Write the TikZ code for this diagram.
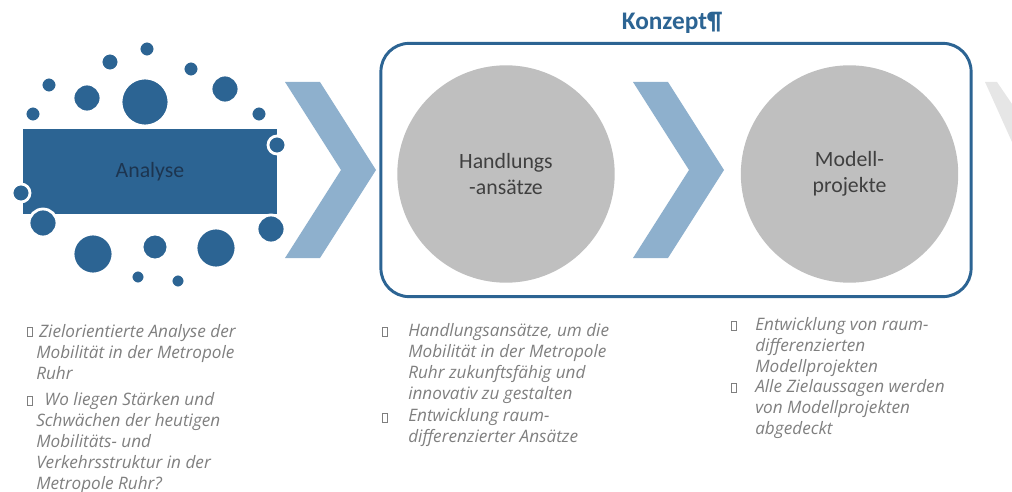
\documentclass[tikz,border=0pt]{standalone}
\usepackage{fontspec}
\setmainfont{Carlito}
\newfontfamily\notefont{Open Sans}
\usetikzlibrary{positioning}

\definecolor{ruhrblue}{HTML}{2C6493}
\definecolor{chevronblue}{HTML}{8EB0CD}
\definecolor{discgray}{HTML}{BFBFBF}
\definecolor{notegray}{HTML}{7F7F7F}
\definecolor{ghostgray}{HTML}{E6E6E6}
\definecolor{labelnavy}{HTML}{1D3550}

\begin{document}
\begin{tikzpicture}[x=0.025cm, y=-0.025cm,
    label text/.style={font=\fontsize{15.5}{18.5}\selectfont, align=center},
    disc/.style={circle, fill=discgray, minimum size=154.6pt, inner sep=0pt, label text, text=black!75},
    dot/.style={fill=ruhrblue, draw=white, line width=2pt},
    % notes hang from the top of their first line (strut keeps it steady)
    note/.style={anchor=north west, align=left, inner sep=0pt, text=notegray,
                 font=\notefont\itshape\fontsize{12.2}{14.9}\selectfont},
    boxmark/.style={rectangle, draw=notegray, line width=0.5pt, inner sep=0pt,
                    minimum width=3.6pt, minimum height=6.6pt}]
    \useasboundingbox (0,0) rectangle (1012,492);

    % chevrons between the stages, and the faded one at the edge
    \foreach \cx in {285,633}
        \fill[chevronblue] (\cx,82) -- ++(35,0) -- ++(56,88) -- ++(-56,88) -- ++(-35,0) -- ++(56,-88) -- cycle;
    \fill[ghostgray] (985,82) -- (997,82) -- (1012,104) -- (1012,142) -- cycle;

    % Analyse block with its ring of dots
    \node (analyse) [fill=ruhrblue, minimum width=180pt, minimum height=60.3pt, label text, text=labelnavy] at (150,171.5) {Analyse};
    \foreach \x/\y/\r in {147/49/8, 110/62/9, 191/69/8, 49/85/8, 87/98/14, 145/102/24, 225/89/14,
                          33/114/8, 259/114/8, 277/145/9, 21/193/9, 43/223/14, 271/229/14,
                          93/254/20, 155/247/13, 216/248/20, 138/277/7, 178/281/7}
        \filldraw[dot] (\x,\y) circle [radius=\r];

    % Konzept frame with the two stages
    \node (konzeptrahmen) [draw=ruhrblue, line width=2.1pt, rounded corners=20pt,
                           minimum width=419.7pt, minimum height=180.1pt] at (676,170) {};
    \node (konzept) [font=\bfseries\fontsize{18}{20}\selectfont, text=ruhrblue] at (672,23) {Konzept¶};
    \node (handlung) [disc] at (506,174) {Handlungs\\-ansätze};
    \node (modell) [disc, right=89.3pt of handlung] {Modell-\\projekte};

    % notes below each stage (y = first baseline - 14.7)
    \node (an1box) [boxmark] at (29.5,332) {};
    \node (an1) [note] at (36,323) {\strut\hspace*{2pt}Zielorientierte Analyse der\\Mobilität in der Metropole\\Ruhr};
    \node (an2box) [boxmark] at (29.5,401) {};
    \node (an2) [note] at (36,391) {\strut\hspace*{6pt}Wo liegen Stärken und\\Schwächen der heutigen\\Mobilitäts- und\\Verkehrsstruktur in der\\Metropole Ruhr?};

    \node (hs1box) [boxmark] at (384.5,332) {};
    \node (hs1) [note] at (408,322) {\strut Handlungsansätze, um die\\Mobilität in der Metropole\\Ruhr zukunftsfähig und\\innovativ zu gestalten};
    \node (hs2box) [boxmark] at (384.5,418) {};
    \node (hs2) [note] at (408,407) {\strut Entwicklung raum-\\differenzierter Ansätze};

    \node (mp1box) [boxmark] at (734,326) {};
    \node (mp1) [note] at (755,316) {\strut Entwicklung von raum-\\differenzierten\\Modellprojekten};
    \node (mp2box) [boxmark] at (734,388) {};
    \node (mp2) [note] at (755,378) {\strut Alle Zielaussagen werden\\von Modellprojekten\\abgedeckt};
\end{tikzpicture}
\end{document}
